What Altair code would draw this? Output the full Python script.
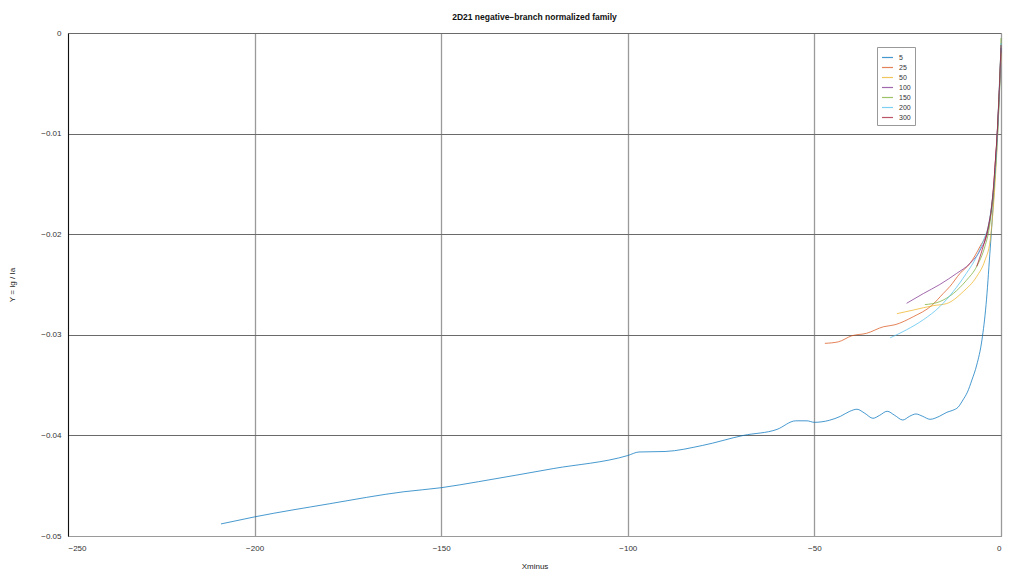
import altair as alt
import pandas as pd

series_names = ["5", "25", "50", "100", "150", "200", "300"]
series_colors = ["#0072BD", "#D95319", "#EDB120", "#7E2F8E", "#77AC30", "#4DBEEE", "#A2142F"]

x_5 = [-209, -200, -180, -160, -150, -140, -120, -100, -97, -90, -80, -69, -60, -55, -52, -50,
       -46, -43, -40.5, -38.6, -36.5, -34.3, -32.5, -30.5, -28.5, -26.3, -24.5, -22.8, -21, -19,
       -16.5, -14.5, -12.9, -11.5, -10.2, -9, -7.8, -6.5, -5.1, -4, -3, -2, -1.3, -0.7, -0.3, 0]
y_5 = [-0.0488, -0.0481, -0.0468, -0.0456, -0.0452, -0.0446, -0.0433, -0.0420, -0.04165, -0.0416,
       -0.0410, -0.0400, -0.0394, -0.03855, -0.03855, -0.0387, -0.0385, -0.0381, -0.0376, -0.0374,
       -0.0378, -0.0383, -0.0380, -0.0376, -0.0380, -0.03847, -0.0381, -0.03787, -0.0381, -0.0384,
       -0.0381, -0.0377, -0.0375, -0.0372, -0.03648, -0.0357, -0.0345, -0.0330, -0.0305, -0.0270,
       -0.0220, -0.0165, -0.0120, -0.0075, -0.0040, -0.0015]

x_25 = [-47.2, -43.6, -40.0, -36.0, -31.5, -28.4, -23.5, -18.6, -15.5, -13.7, -11.0, -8.3, -5.6,
        -3.5, -2.5, -2.0, -1.5, -1.0, -0.6, -0.3, 0]
y_25 = [-0.03085, -0.0307, -0.0301, -0.02985, -0.0292, -0.0290, -0.0282, -0.0271, -0.0259, -0.0252,
        -0.0239, -0.0229, -0.0212, -0.0195, -0.0172, -0.0153, -0.0127, -0.0099, -0.0070, -0.0045, -0.0018]

x_50 = [-27.9, -23.5, -18.1, -14.6, -10.1, -6.5, -4.3, -2.9, -2.2, -1.6, -1.0, -0.6, -0.3, 0]
y_50 = [-0.0279, -0.02754, -0.0271, -0.0269, -0.0257, -0.0242, -0.0226, -0.0206, -0.0180, -0.0150,
        -0.0110, -0.0078, -0.0050, -0.0020]

x_100 = [-25.3, -20.8, -16.4, -11.9, -8.3, -5.6, -3.5, -2.5, -2.0, -1.5, -1.0, -0.6, -0.3, 0]
y_100 = [-0.02687, -0.0259, -0.0250, -0.0239, -0.0229, -0.0216, -0.0196, -0.0173, -0.0155, -0.0128,
         -0.0100, -0.0070, -0.0045, -0.0015]

x_150 = [-20.4, -16.4, -12.8, -9.3, -6.5, -4.3, -3.2, -2.4, -1.8, -1.3, -0.9, -0.5, -0.2, 0]
y_150 = [-0.0270, -0.0267, -0.0259, -0.0246, -0.0232, -0.0212, -0.0195, -0.0172, -0.0150, -0.0125,
         -0.0098, -0.0065, -0.0035, -0.0005]

x_200 = [-29.7, -25.3, -20.8, -16.4, -12.8, -9.3, -6.5, -4.7, -3.3, -2.4, -1.8, -1.3, -0.9, -0.5, -0.2, 0]
y_200 = [-0.0303, -0.0295, -0.0285, -0.0272, -0.0257, -0.0239, -0.0222, -0.0206, -0.0190, -0.0168,
         -0.0148, -0.0125, -0.0100, -0.0068, -0.0038, -0.0010]

x_300 = [-6.5, -5.0, -3.5, -2.5, -2.0, -1.5, -1.0, -0.6, -0.3, 0]
y_300 = [-0.0232, -0.0215, -0.0194, -0.0172, -0.0153, -0.0127, -0.0099, -0.0069, -0.0043, -0.0012]

all_x = [x_5, x_25, x_50, x_100, x_150, x_200, x_300]
all_y = [y_5, y_25, y_50, y_100, y_150, y_200, y_300]

rows = []
for name, xs, ys in zip(series_names, all_x, all_y):
    for i, (xv, yv) in enumerate(zip(xs, ys)):
        rows.append({"series": name, "x": xv, "y": yv, "i": i})
df = pd.DataFrame(rows)

FONT = "Liberation Sans"

chart = alt.Chart(df).mark_line(strokeWidth=1, opacity=0.72, interpolate="monotone").encode(
    x=alt.X("x:Q", scale=alt.Scale(domain=[-250, 0], nice=False),
            axis=alt.Axis(title="Xminus", values=[-250, -200, -150, -100, -50, 0], format="d",
                          grid=True, gridColor="#9a9a9a", gridWidth=1.3, ticks=False,
                          domainColor="#9a9a9a", labelFont=FONT, labelFontSize=8,
                          labelColor="#333333", labelPadding=8, titleFont=FONT,
                          titleFontSize=8, titleFontWeight="normal", titleColor="#222222",
                          titlePadding=10)),
    y=alt.Y("y:Q", scale=alt.Scale(domain=[-0.05, 0], nice=False),
            axis=alt.Axis(title="Y = Ig / Ia", values=[0, -0.01, -0.02, -0.03, -0.04, -0.05],
                          format=".2~f", grid=True, gridColor="#6a6a6a", gridWidth=1, ticks=False,
                          domainColor="#111111", labelFont=FONT, labelFontSize=8,
                          labelColor="#333333", labelPadding=7, titleFont=FONT,
                          titleFontSize=8, titleFontWeight="normal", titleColor="#222222",
                          titlePadding=24)),
    color=alt.Color("series:N", scale=alt.Scale(domain=series_names, range=series_colors),
                    legend=alt.Legend(title=None, orient="none", legendX=809, legendY=14,
                                      symbolType="stroke", symbolSize=120, symbolStrokeWidth=1.2,
                                      symbolOpacity=0.72,
                                      labelFont=FONT, labelFontSize=7, labelColor="#333333",
                                      rowPadding=0, padding=4, strokeColor="#999999",
                                      fillColor="white", labelOffset=5)),
    order=alt.Order("i:Q"),
).properties(
    width=933, height=503,
    title=alt.TitleParams("2D21 negative\u2212branch normalized family", font=FONT, fontSize=8.5,
                          fontWeight="bold", color="#111111", offset=8, anchor="middle"),
    autosize=alt.AutoSizeParams(type="none"),
    padding={"left": 60, "top": 25, "right": 15, "bottom": 38},
).configure_view(stroke="#8a8a8a", strokeWidth=1).configure(background="white")

chart.save("out.html", embed_options={"renderer": "svg", "actions": False})
